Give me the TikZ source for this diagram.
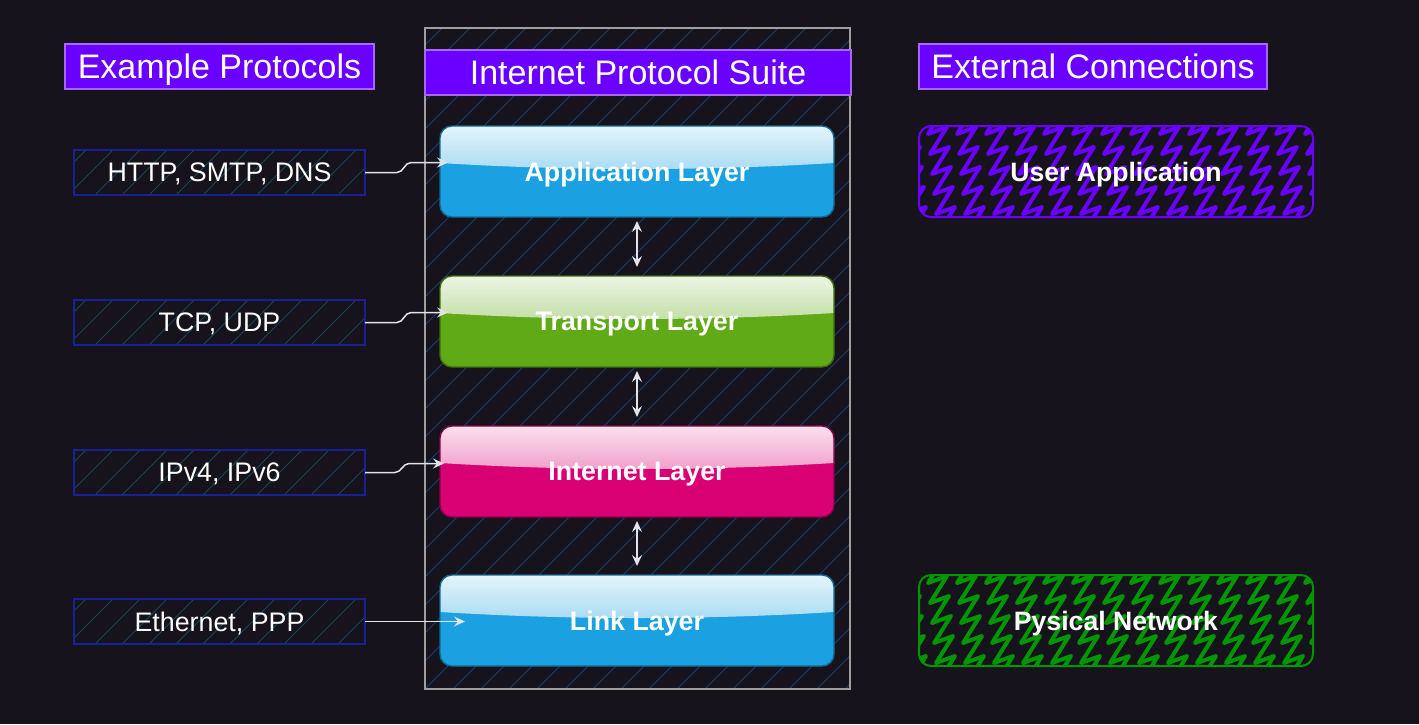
\documentclass[tikz,border=0pt]{standalone}
\usepackage{fontspec}
\setmainfont{Liberation Sans}
\usetikzlibrary{arrows.meta,calc}
\definecolor{bgdark}{RGB}{22,19,28}
\definecolor{headviolet}{RGB}{106,0,255}
\definecolor{hatchblue}{RGB}{28,62,110}
\definecolor{hatchteal}{RGB}{26,70,92}
\definecolor{boxblue}{RGB}{22,34,150}
\definecolor{layerblue}{RGB}{27,161,226}
\definecolor{layergreen}{RGB}{96,169,23}
\definecolor{layerpink}{RGB}{216,0,115}
\definecolor{netgreen}{RGB}{0,150,0}
\definecolor{linkgray}{RGB}{226,226,232}

\begin{document}
\begin{tikzpicture}[x=1pt,y=-1pt,>={Stealth[length=11pt,width=10pt,inset=4pt]},
  heading/.style={fill=headviolet,draw=headviolet!60!white,line width=1.2pt,text=white,
    font=\fontsize{34}{38}\selectfont,text depth=0pt,inner sep=0pt,outer sep=0pt,anchor=north west,minimum height=45pt},
  proto/.style={draw=boxblue,line width=1.6pt,fill=bgdark,minimum width=291pt,minimum height=45pt,
    text=white,font=\fontsize{26.8}{30}\selectfont,text depth=0pt,inner sep=0pt,outer sep=0pt,anchor=north west,
    path picture={\foreach \k in {-60,-33,...,320}
      \draw[hatchteal,line width=0.9pt] ([xshift=\k pt]path picture bounding box.south west) -- ++(50pt,50pt);}},
  layer/.style={draw=#1!65!black,line width=1.4pt,fill=#1,rounded corners=12pt,
    minimum width=394pt,minimum height=91pt,text=white,font=\bfseries\fontsize{26.8}{30}\selectfont,
    text depth=0pt,inner sep=0pt,outer sep=0pt,anchor=north west,
    path picture={\shade[sharp corners,top color=white!88!#1,bottom color=white!35!#1]
      (path picture bounding box.north west) -- (path picture bounding box.north east)
      -- ([yshift=-37pt]path picture bounding box.north east)
      .. controls +(-130pt,-8pt) and +(130pt,-8pt) .. ([yshift=-37pt]path picture bounding box.north west) -- cycle;}},
  ext/.style={draw=#1,line width=2pt,fill=bgdark,rounded corners=12pt,
    minimum width=394pt,minimum height=91pt,text=white,font=\bfseries\fontsize{26.6}{30}\selectfont,
    text depth=0pt,inner sep=0pt,outer sep=0pt,anchor=north west,
    path picture={\foreach \c in {-22,7,...,420}
      \draw[#1,sharp corners,line width=4pt,line join=round]
        ([shift={(\c pt,12pt)}]path picture bounding box.north west)
        \foreach \i in {1,...,6}{ -- ++(19pt,7pt) -- ++(-17pt,-27pt) };}},
  flow/.style={->,draw=linkgray,line width=1.5pt}
]
  \fill[bgdark] (0,0) rectangle (1419,724);
  \useasboundingbox (0,0) rectangle (1419,724);

  % Internet Protocol Suite
  \node[draw=gray!75,line width=1.5pt,fill=bgdark,minimum width=425pt,minimum height=661pt,
    inner sep=0pt,outer sep=0pt,anchor=north west,
    path picture={\foreach \k in {-700,-672,...,440}
      \draw[hatchblue,line width=0.9pt] ([xshift=\k pt]path picture bounding box.south west) -- ++(700pt,700pt);}]
    (suite) at (425,28) {};
  \node[heading,minimum width=426pt] (suitehead) at (425,50) {Internet Protocol Suite};
  \node[heading,minimum width=309pt] (protohead) at (65,44) {Example Protocols};
  \node[heading,minimum width=348pt] (exthead) at (919,44) {External Connections};

  \node[layer=layerblue] (app) at (440,126) {Application Layer};
  \node[layer=layergreen] (trans) at (440,276) {Transport Layer};
  \node[layer=layerpink] (net) at (440,426) {Internet Layer};
  \node[layer=layerblue] (link) at (440,575) {Link Layer};

  \draw[flow,<->,shorten <=4pt,shorten >=9pt] (app.south) -- (trans.north);
  \draw[flow,<->,shorten <=4pt,shorten >=9pt] (trans.south) -- (net.north);
  \draw[flow,<->,shorten <=4pt,shorten >=9pt] (net.south) -- (link.north);

  % Example Protocols
  \node[proto] (p1) at (74,150) {HTTP, SMTP, DNS};
  \node[proto] (p2) at (74,300) {TCP, UDP};
  \node[proto] (p3) at (74,450) {IPv4, IPv6};
  \node[proto] (p4) at (74,599) {Ethernet, PPP};

  \draw[flow] (p1.east) -- ++(32,0) to[out=0,in=180] ++(14,-10) -- ($(app.west)+(8pt,9pt)$);
  \draw[flow] (p2.east) -- ++(32,0) to[out=0,in=180] ++(14,-10) -- ($(trans.west)+(8pt,9pt)$);
  \draw[flow] (p3.east) -- ++(30,0) to[out=0,in=180] ++(14,-9) -- ($(net.west)+(4pt,8pt)$);
  \draw[flow] (p4.east) -- ($(p4.east -| link.west)+(25pt,0)$);

  % External Connections
  \node[ext=headviolet] (user) at (919,126) {User Application};
  \node[ext=netgreen] (phys) at (919,575) {Pysical Network};
\end{tikzpicture}
\end{document}
